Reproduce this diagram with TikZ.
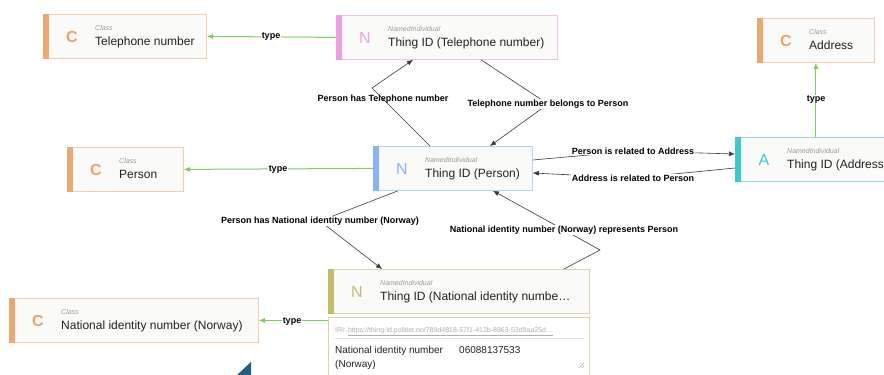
\documentclass[tikz,border=0pt]{standalone}
\usepackage{fontspec}
\setmainfont{Liberation Sans}
\usetikzlibrary{arrows.meta,calc}
\definecolor{boxbg}{HTML}{FAFAF8}
\definecolor{titletext}{HTML}{222222}
\definecolor{kindtext}{HTML}{9A9A9A}
\definecolor{edgegray}{HTML}{3A3A3A}
\definecolor{typegreen}{HTML}{7FCB5F}
\definecolor{clsbar}{HTML}{EBA871}
\definecolor{clsborder}{HTML}{F3CFAF}
\definecolor{clsletter}{HTML}{E9A36B}
\definecolor{pinkbar}{HTML}{E9A0DC}
\definecolor{pinkborder}{HTML}{EEC3E8}
\definecolor{pinkletter}{HTML}{EBA6DF}
\definecolor{bluebar}{HTML}{8AB2F5}
\definecolor{blueborder}{HTML}{B9D0F8}
\definecolor{blueletter}{HTML}{8AB2F5}
\definecolor{tealbar}{HTML}{3FCACA}
\definecolor{tealborder}{HTML}{8EDEDE}
\definecolor{tealletter}{HTML}{3FCACA}
\definecolor{olivebar}{HTML}{C2BB6E}
\definecolor{oliveborder}{HTML}{DAD6A8}
\definecolor{oliveletter}{HTML}{C6BE78}
\definecolor{cornertri}{HTML}{1F6082}
\newcommand\mkbox[8]{%
  \node[entbox, draw=#5border, minimum width=#4pt] (#1) at (#2,#3) {};
  \fill[#5bar] (#1.north west) rectangle ([xshift=6pt]#1.south west);
  \node[letterstyle, text=#5letter] (#1-l) at ([xshift=29pt,yshift=-28.5pt]#1.north west) {#6};
  \node[kindstyle] (#1-k) at ([xshift=52pt,yshift=-16pt]#1.north west) {#7};
  \node[titlestyle] (#1-t) at ([xshift=52pt,yshift=-31pt]#1.north west) {#8};
}
\begin{document}
\begin{tikzpicture}[x=1pt,y=-1pt,
  entbox/.style={fill=boxbg, line width=0.8pt, minimum height=44pt, anchor=north west, inner sep=0pt},
  letterstyle/.style={font=\fontsize{16}{18}\selectfont, anchor=base, inner sep=0pt},
  kindstyle/.style={font=\fontsize{7}{8}\selectfont\itshape, text=kindtext, anchor=base west, inner sep=0pt},
  titlestyle/.style={font=\fontsize{12}{14}\selectfont, text=titletext, anchor=base west, inner sep=0pt},
  rel/.style={draw=edgegray, line width=0.6pt, -{Latex[length=6pt,width=5pt]}},
  typ/.style={draw=typegreen, line width=1pt, -{Latex[length=6pt,width=5pt]}},
  elabel/.style={font=\fontsize{9}{10}\selectfont\bfseries, text=black, fill=white, inner sep=1pt},
  tlabel/.style={font=\fontsize{9}{10}\selectfont\bfseries, text=black, fill=white, inner sep=0.5pt},
  plaintext/.style={font=\fontsize{10}{12}\selectfont, text=titletext, anchor=base west, inner sep=0pt}
]
\useasboundingbox (0,0) rectangle (884,375);
\clip (0,0) rectangle (884,375);
\fill[white] (0,0) rectangle (884,375);

% boxes
\mkbox{tc}{43}{14}{163}{cls}{\bfseries C}{Class}{Telephone number}
\mkbox{tt}{336}{15}{221}{pink}{N}{NamedIndividual}{Thing ID (Telephone number)}
\mkbox{ac}{757}{18}{117}{cls}{\bfseries C}{Class}{Address}
\mkbox{pc}{67}{147}{116}{cls}{\bfseries C}{Class}{Person}
\mkbox{pt}{373}{146}{159}{blue}{N}{NamedIndividual}{Thing ID (Person)}
\mkbox{at}{735}{137}{170}{teal}{A}{NamedIndividual}{Thing ID (Address)}
\mkbox{nt}{328}{269}{261}{olive}{N}{NamedIndividual}{Thing ID (National identity numbe\dots}
\mkbox{nc}{9}{298}{249}{cls}{\bfseries C}{Class}{National identity number (Norway)}

% detail panel
\node[draw=oliveborder, fill=white, line width=0.8pt, anchor=north west, minimum width=261pt, minimum height=70pt, inner sep=0pt] (det) at (328,317) {};
\node[kindstyle, font=\fontsize{7}{8}\selectfont, text=kindtext!80] (det-iri) at ([xshift=7pt,yshift=-15pt]det.north west) {IRI:\ \underline{https://thing-id.politiet.no/789d4818-57f1-412b-8863-53d9aa25d\dots}};
\draw[gray!25, line width=0.6pt] ([xshift=7pt,yshift=-21pt]det.north west) -- ([xshift=-6pt,yshift=-21pt]det.north east);
\node[plaintext] (det-k1) at ([xshift=7pt,yshift=-36pt]det.north west) {National identity number};
\node[plaintext] (det-v) at ([xshift=131pt,yshift=-36pt]det.north west) {06088137533};
\node[plaintext] (det-k2) at ([xshift=7pt,yshift=-50pt]det.north west) {(Norway)};
\coordinate (hnd) at ([xshift=-6pt,yshift=-51pt]det.north east);
\draw[gray!70, line width=0.5pt] ($(hnd)+(-5,0)$) -- ($(hnd)+(0,-5)$) ($(hnd)+(-2,0)$) -- ($(hnd)+(0,-2)$);

% type edges
\draw[typ] (tt.west) -- (tc.east);
\node[tlabel] (l1) at (271,36) {type};
\draw[typ] (pt.west) -- (pc.east);
\node[tlabel] (l2) at (278,169) {type};
\draw[typ] (ac.south |- at.north) -- (ac.south);
\node[tlabel] (l3) at (816,99) {type};
\draw[typ] (nc.east -| det.west) -- (nc.east);
\node[tlabel] (l4) at (292,321) {type};

% relationship edges
\coordinate (k1) at (372,88);
\draw[rel] ([xshift=57pt]pt.north west) -- (k1) -- ([xshift=77pt]tt.south west);
\node[font=\fontsize{9}{10}\selectfont\bfseries, inner sep=1pt] (r1) at (383,99) {Person has Telephone number};

\coordinate (k2) at (548,104);
\draw[rel] ([xshift=145pt]tt.south west) -- (k2) -- ([xshift=117pt]pt.north west);
\node[elabel] (r2) at (k2) {Telephone number belongs to Person};

\coordinate (k3) at (633,151);
\draw[rel] ([yshift=-14pt]pt.north east) -- (k3) -- ([yshift=-17pt]at.north west);
\node[elabel] (r3) at (k3) {Person is related to Address};

\coordinate (k4) at (633,178);
\draw[rel] ([yshift=-31pt]at.north west) -- (k4) -- ([yshift=-27pt]pt.north east);
\node[elabel] (r4) at (k4) {Address is related to Person};

\coordinate (k5) at (320,221);
\draw[rel] ([xshift=25pt]pt.south west) -- (k5) -- ([xshift=54pt]nt.north west);
\node[elabel] (r5) at (k5) {Person has National identity number (Norway)};

\coordinate (k6a) at (600,250);
\coordinate (k6) at (564,230);
\draw[rel] ([xshift=236pt]nt.north west) -- (k6a) -- (k6) -- ([xshift=120pt]pt.south west);
\node[elabel] (r6) at (k6) {National identity number (Norway) represents Person};

% corner widget
\fill[cornertri] (237,375) -- (251,362) -- (251,375) -- cycle;
\end{tikzpicture}
\end{document}
